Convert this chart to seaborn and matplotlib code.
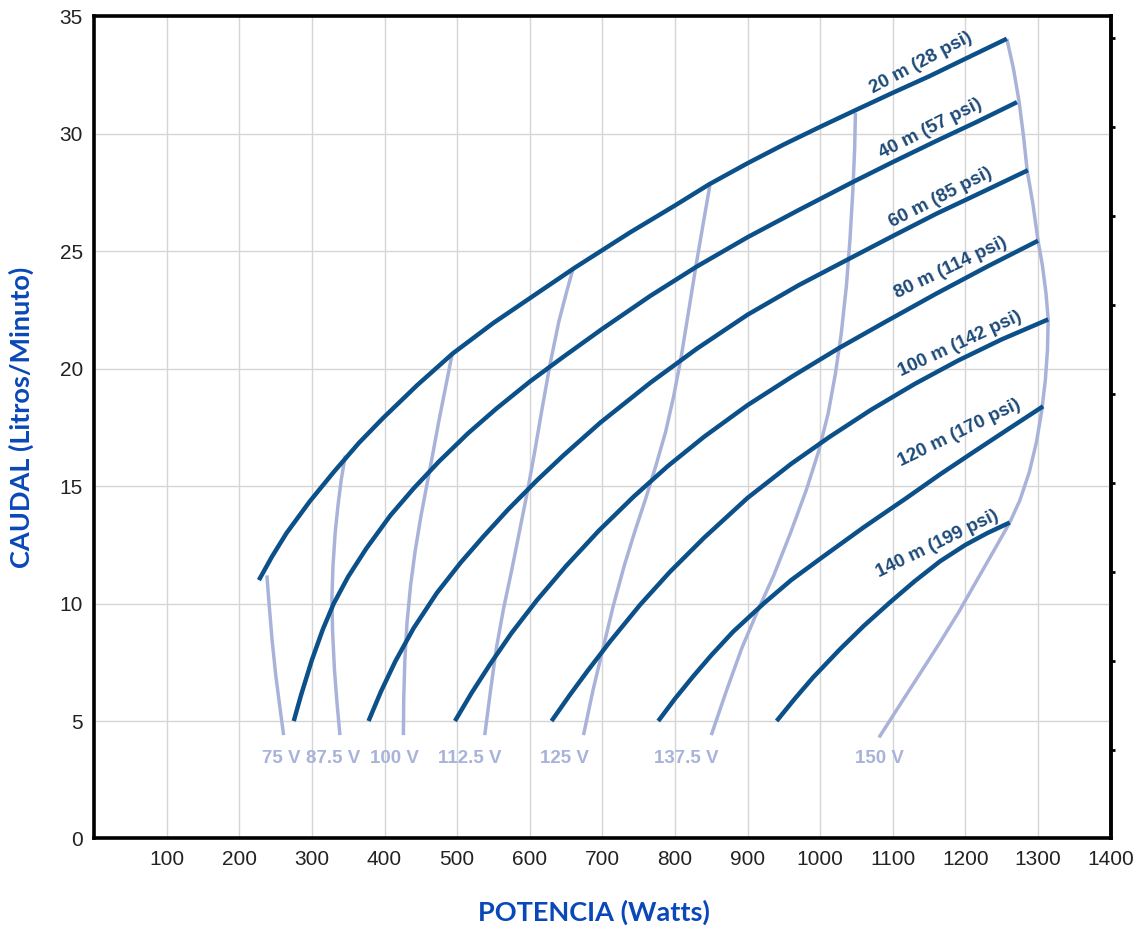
import matplotlib
matplotlib.use("Agg")
import matplotlib.pyplot as plt
import pandas as pd
import seaborn as sns

# ---------------------------------------------------------------
# Curvas de presión (potencia en W, caudal en L/min)
# ---------------------------------------------------------------
P20_W = [227, 245, 265, 297, 330, 365, 398, 445, 494, 550, 600, 662, 738, 800, 847,
         900, 950, 1000, 1048, 1100, 1150, 1200, 1257]
P20_Q = [11.0, 12.0, 13.0, 14.35, 15.6, 16.85, 17.9, 19.3, 20.65, 21.95, 23.0, 24.3,
         25.8, 26.95, 27.85, 28.75, 29.55, 30.3, 31.0, 31.75, 32.45, 33.2, 34.05]

P40_W = [275, 285, 300, 315, 330, 350, 375, 408, 440, 475, 515, 554, 600, 646, 700,
         766, 830, 900, 970, 1045, 1100, 1160, 1215, 1271]
P40_Q = [5.0, 6.1, 7.6, 8.9, 10.0, 11.15, 12.35, 13.75, 14.9, 16.05, 17.25, 18.3,
         19.45, 20.5, 21.7, 23.1, 24.35, 25.6, 26.75, 27.95, 28.8, 29.7, 30.5, 31.35]

P60_W = [378, 395, 415, 440, 472, 505, 536, 570, 610, 646, 697, 766, 830, 900, 970,
         1041, 1100, 1160, 1225, 1286]
P60_Q = [5.0, 6.25, 7.55, 8.95, 10.45, 11.75, 12.85, 14.0, 15.25, 16.3, 17.7, 19.4,
         20.85, 22.3, 23.55, 24.7, 25.65, 26.6, 27.55, 28.45]

P80_W = [497, 520, 545, 575, 610, 650, 695, 743, 790, 840, 900, 963, 1027, 1090,
         1160, 1230, 1300]
P80_Q = [5.0, 6.2, 7.4, 8.75, 10.15, 11.6, 13.1, 14.55, 15.85, 17.1, 18.45, 19.7,
         20.9, 22.0, 23.2, 24.35, 25.45]

P100_W = [630, 655, 680, 711, 752, 793, 840, 900, 960, 1013, 1070, 1130, 1190, 1250, 1314]
P100_Q = [5.0, 6.1, 7.15, 8.4, 9.95, 11.35, 12.8, 14.5, 15.95, 17.1, 18.25, 19.35,
          20.35, 21.25, 22.1]

P120_W = [777, 800, 825, 850, 880, 922, 960, 1004, 1060, 1119, 1165, 1211, 1260, 1307]
P120_Q = [5.0, 5.95, 6.9, 7.8, 8.8, 10.0, 11.0, 12.0, 13.25, 14.5, 15.5, 16.45,
          17.45, 18.4]

P140_W = [940, 965, 990, 1027, 1060, 1096, 1130, 1165, 1200, 1230, 1261]
P140_Q = [5.0, 5.95, 6.85, 8.05, 9.05, 10.05, 10.95, 11.8, 12.5, 13.0, 13.45]

PRESION_ETIQUETAS = ["20 m (28 psi)", "40 m (57 psi)", "60 m (85 psi)",
                     "80 m (114 psi)", "100 m (142 psi)", "120 m (170 psi)",
                     "140 m (199 psi)"]
PRESION_ETQ_W = [1139, 1152, 1166, 1180, 1193, 1192, 1161]
PRESION_ETQ_Q = [33.0, 30.2, 27.3, 24.3, 21.05, 17.25, 12.55]
PRESION_ETQ_ANG = [28, 27, 27, 25.5, 25, 26, 26]

# ---------------------------------------------------------------
# Curvas de tensión
# ---------------------------------------------------------------
V75_W = [261, 255, 250, 245, 241, 238]
V75_Q = [4.4, 5.8, 7.0, 8.5, 10.0, 11.2]

V87_W = [338.6, 334.5, 331, 328.5, 327.5, 329, 332, 336, 340.5, 346]
V87_Q = [4.4, 5.8, 7.2, 8.8, 10.2, 11.6, 13.0, 14.2, 15.3, 16.3]

V100_W = [426, 426.5, 428, 431, 436, 442, 450, 458, 466, 475, 484, 493]
V100_Q = [4.4, 6.0, 7.6, 9.2, 10.8, 12.2, 13.7, 15.0, 16.3, 17.8, 19.2, 20.6]

V112_W = [538, 546, 554, 564, 575, 586, 597, 607, 617, 628, 640, 651, 660]
V112_Q = [4.4, 6.3, 8.1, 9.8, 11.4, 13.1, 14.8, 16.5, 18.3, 20.2, 22.0, 23.3, 24.3]

V125_W = [674, 687, 701, 715, 730, 745, 760, 774, 787, 798, 808, 818, 829, 839, 848]
V125_Q = [4.4, 6.3, 8.1, 9.9, 11.6, 13.1, 14.5, 15.9, 17.3, 18.8, 20.4, 22.3, 24.4,
          26.2, 27.8]

V137_W = [850, 871, 892, 914, 936, 959, 981, 998, 1011, 1021, 1029, 1036, 1041, 1045,
          1047.5, 1048.5]
V137_Q = [4.4, 6.3, 8.1, 9.7, 11.2, 13.0, 14.85, 16.5, 18.1, 19.8, 21.5, 23.5, 25.5,
          27.6, 29.4, 30.9]

V150_W = [1081, 1110, 1137, 1165, 1191, 1215, 1240, 1261, 1275, 1288, 1298, 1305, 1310,
          1313, 1314, 1311, 1306, 1300, 1293, 1285, 1280, 1274, 1266, 1257]
V150_Q = [4.3, 5.7, 7.0, 8.35, 9.65, 10.95, 12.3, 13.45, 14.4, 15.6, 16.9, 18.2, 19.5,
          20.8, 22.1, 23.2, 24.4, 25.45, 27.0, 28.45, 29.9, 31.35, 32.8, 34.05]

TENSION_ETIQUETAS = ["75 V", "87.5 V", "100 V", "112.5 V", "125 V", "137.5 V", "150 V"]
TENSION_ETQ_W = [258, 329, 414, 518, 648, 816, 1082]
TENSION_ETQ_Q = [3.4, 3.4, 3.4, 3.4, 3.4, 3.4, 3.4]

LITROS_POR_GALON = 3.785

COLOR_PRESION = "#0c5089"
COLOR_PRESION_TXT = "#1d4a78"
COLOR_TENSION = "#a9b3d9"
COLOR_EJE = "#0a47b8"


def tabla(series, nombres):
    filas = []
    for (w, q), nombre in zip(series, nombres):
        for i, (wi, qi) in enumerate(zip(w, q)):
            filas.append({"watts": wi, "caudal": qi, "curva": nombre, "orden": i})
    return pd.DataFrame(filas)


presion = tabla([(P20_W, P20_Q), (P40_W, P40_Q), (P60_W, P60_Q), (P80_W, P80_Q),
                 (P100_W, P100_Q), (P120_W, P120_Q), (P140_W, P140_Q)],
                PRESION_ETIQUETAS)
tension = tabla([(V75_W, V75_Q), (V87_W, V87_Q), (V100_W, V100_Q), (V112_W, V112_Q),
                 (V125_W, V125_Q), (V137_W, V137_Q), (V150_W, V150_Q)],
                TENSION_ETIQUETAS)

sns.set_style("white")
plt.rcParams["font.family"] = ["Liberation Sans", "DejaVu Sans"]

fig = plt.figure(figsize=(11.43, 9.34), dpi=100)
ax = fig.add_axes([0.0823, 0.1023, 0.8894, 0.8801])

sns.lineplot(data=tension, x="watts", y="caudal", hue="curva", sort=False,
             estimator=None, palette={n: COLOR_TENSION for n in TENSION_ETIQUETAS},
             linewidth=2.5, legend=False, ax=ax, zorder=3)
sns.lineplot(data=presion, x="watts", y="caudal", hue="curva", sort=False,
             estimator=None, palette={n: COLOR_PRESION for n in PRESION_ETIQUETAS},
             linewidth=3.2, legend=False, ax=ax, zorder=4)
for ln in ax.get_lines():
    ln.set_solid_capstyle("butt")
    ln.set_solid_joinstyle("round")

for txt, w, q, ang in zip(PRESION_ETIQUETAS, PRESION_ETQ_W, PRESION_ETQ_Q, PRESION_ETQ_ANG):
    ax.text(w, q, txt, rotation=ang, rotation_mode="anchor", ha="center", va="center",
            fontsize=13.5, fontweight="bold", color=COLOR_PRESION_TXT, zorder=5)

for txt, w, q in zip(TENSION_ETIQUETAS, TENSION_ETQ_W, TENSION_ETQ_Q):
    ax.text(w, q, txt, ha="center", va="center", fontsize=13.5, fontweight="bold",
            color=COLOR_TENSION, zorder=5)

ax.set_xlim(0, 1400)
ax.set_ylim(0, 35)
ax.set_xticks(range(100, 1401, 100))
ax.set_yticks(range(0, 36, 5))
ax.grid(True, color="#d5d5d5", linewidth=1.0)
ax.set_axisbelow(True)
ax.tick_params(axis="both", direction="out", length=4, width=1.6, color="black",
               labelsize=15, labelcolor="#222222", pad=4)
for s in ax.spines.values():
    s.set_visible(True)
    s.set_linewidth(2.6)
    s.set_color("black")

# Escala secundaria en galones por minuto (marcas sin rótulo)
sec = ax.secondary_yaxis("right", functions=(lambda q: q / LITROS_POR_GALON,
                                             lambda g: g * LITROS_POR_GALON))
sec.set_yticks(range(1, 10))
sec.set_yticklabels([])
sec.tick_params(direction="out", length=3, width=2, color="black")
sec.spines["right"].set_linewidth(2.6)

ax.set_xlabel("POTENCIA (Watts)", fontsize=19.5, fontweight="bold", color=COLOR_EJE,
              family=["Lato", "DejaVu Sans"])
ax.set_ylabel("CAUDAL (Litros/Minuto)", fontsize=19.5, fontweight="bold", color=COLOR_EJE,
              family=["Lato", "DejaVu Sans"])
ax.xaxis.set_label_coords(0.4918, -0.075)
ax.yaxis.set_label_coords(-0.059, 0.512)

fig.savefig("out.png", dpi=100)
